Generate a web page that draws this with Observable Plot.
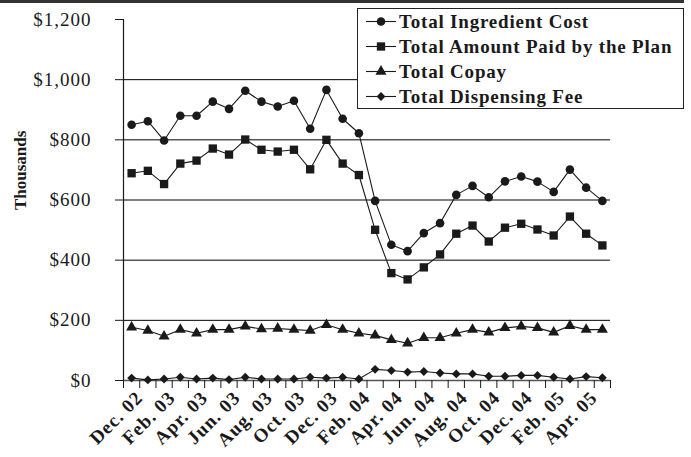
<!DOCTYPE html>
<html>
<head>
<meta charset="utf-8">
<script src="https://cdn.jsdelivr.net/npm/d3@7"></script>
<script src="https://cdn.jsdelivr.net/npm/@observablehq/plot@0.6"></script>
<style>
  html, body { margin: 0; padding: 0; background: #fff; }
  #wrap { position: relative; width: 691px; height: 457px; overflow: hidden; background: #fff; }
  #wrap > svg { position: absolute; left: 0; top: 0; }
  #topline { position: absolute; left: 0; top: 0; width: 684px; height: 3px; background: #333; }
  #legend { position: absolute; left: 357px; top: 8px; width: 327px; height: 101px; box-sizing: border-box;
            border: 1.5px solid #222; background: #fff; padding-top: 0; }
  .lrow { display: flex; align-items: center; height: 25px; font-family: "Liberation Serif", serif;
          font-weight: bold; font-size: 19px; letter-spacing: 0.8px; color: #1a1a1a; white-space: nowrap; }
  .lrow svg { margin-left: 7px; margin-right: 3px; flex: none; }
  .chart g[aria-label="y-axis tick label"] { font-family: "Liberation Serif", serif; letter-spacing: 1px; }
  .chart g[aria-label="x-axis tick label"] { font-family: "Liberation Serif", serif; letter-spacing: 1px; }
</style>
</head>
<body>
<div id="wrap"><div id="topline"></div></div>
<script>
const months = ["Dec. 02","Jan. 03","Feb. 03","Mar. 03","Apr. 03","May 03","Jun. 03","Jul. 03","Aug. 03","Sep. 03",
  "Oct. 03","Nov. 03","Dec. 03","Jan. 04","Feb. 04","Mar. 04","Apr. 04","May 04","Jun. 04","Jul. 04",
  "Aug. 04","Sep. 04","Oct. 04","Nov. 04","Dec. 04","Jan. 05","Feb. 05","Mar. 05","Apr. 05","May 05"];
const ingredientCost = [850,862,798,880,880,927,903,963,927,911,930,837,966,870,822,597,451,430,490,523,617,647,609,662,678,661,627,701,641,597];
const amountPaid = [689,697,653,721,731,771,751,801,767,761,767,702,800,721,683,501,357,336,376,419,488,515,462,508,521,502,482,545,488,449];
const copay = [177,166,147,169,157,169,169,180,171,173,169,166,185,169,157,150,135,124,142,142,157,169,160,175,180,175,160,182,169,169];
const dispensingFee = [8,2,5,11,5,8,3,11,5,5,5,11,8,11,5,37,33,28,30,25,22,22,14,14,17,17,11,5,13,9];
const seriesNames = ["Total Ingredient Cost","Total Amount Paid by the Plan","Total Copay","Total Dispensing Fee"];
const yTicks = [0,200,400,600,800,1000,1200];
const yLabel = "Thousands";

const seriesValues = [ingredientCost, amountPaid, copay, dispensingFee];
const symbols = [d3.symbolCircle, d3.symbolSquare, d3.symbolTriangle, d3.symbolDiamond2 || d3.symbolDiamond];
const radii = [4.3, 4.7, 4.1, 4];
const ink = "#1a1a1a";

const idx = months.map((m, i) => i);
const xDomain = [-0.5, months.length - 0.5];
const boundaries = d3.range(months.length + 1).map(i => i - 0.5);
const labelIdx = idx.filter(i => i % 2 === 0);
const tables = seriesValues.map((vals, s) => vals.map((v, i) => ({i, v, s: seriesNames[s]})));

const marks = [
  Plot.ruleY(yTicks.filter(t => t > yTicks[0] && t < yTicks[yTicks.length - 1]), {stroke: "#000", strokeWidth: 1}),
  Plot.ruleY([yTicks[0]], {stroke: "#555", strokeWidth: 1.5}),
  Plot.ruleX([xDomain[0]], {stroke: ink, strokeWidth: 1.2, y1: yTicks[0], y2: yTicks[yTicks.length - 1]}),
  Plot.axisY(yTicks, {tickSize: 8, tickPadding: 24, fontSize: 19, stroke: ink, fill: ink, label: null,
    tickFormat: d => "$" + d3.format(",")(d)}),
  Plot.axisX(boundaries, {tickSize: 8, stroke: ink, label: null, tickFormat: () => ""}),
  Plot.axisX(labelIdx, {tickSize: 0, tickPadding: 14, tickRotate: -45, dx: 8, fontSize: 19, fontWeight: "bold",
    fill: ink, label: null, tickFormat: i => months[i]}),
  Plot.text([yLabel], {frameAnchor: "left", rotate: -90, dx: -103, dy: 10, fontSize: 17, fontWeight: "bold",
    fontFamily: "Liberation Serif", fill: ink}),
];
tables.forEach((t, s) => {
  marks.push(Plot.line(t, {x: "i", y: "v", stroke: ink, strokeWidth: 1.1}));
  marks.push(Plot.dot(t, {x: "i", y: "v", symbol: symbols[s], r: radii[s], fill: ink, stroke: "none"}));
});

const chart = Plot.plot({
  width: 691, height: 457,
  marginLeft: 123, marginRight: 81, marginTop: 19, marginBottom: 77,
  className: "chart",
  style: {fontFamily: "Liberation Serif", fontSize: "19px", background: "transparent", color: ink},
  x: {type: "linear", domain: xDomain, axis: null},
  y: {domain: [yTicks[0], yTicks[yTicks.length - 1]], axis: null},
  marks
});
const wrap = document.getElementById("wrap");
wrap.insertBefore(chart, wrap.firstChild);

// legend
const legend = document.createElement("div");
legend.id = "legend";
seriesNames.forEach((name, s) => {
  const row = document.createElement("div");
  row.className = "lrow";
  const svg = d3.create("svg").attr("width", 31).attr("height", 25);
  svg.append("line").attr("x1", 1).attr("x2", 31).attr("y1", 12.5).attr("y2", 12.5)
    .attr("stroke", ink).attr("stroke-width", 1.1);
  svg.append("path").attr("transform", "translate(16,12.5)")
    .attr("d", d3.symbol(symbols[s], Math.PI * radii[s] * radii[s])()).attr("fill", ink);
  row.appendChild(svg.node());
  const span = document.createElement("span");
  span.textContent = name;
  row.appendChild(span);
  legend.appendChild(row);
});
wrap.appendChild(legend);
</script>
</body>
</html>
